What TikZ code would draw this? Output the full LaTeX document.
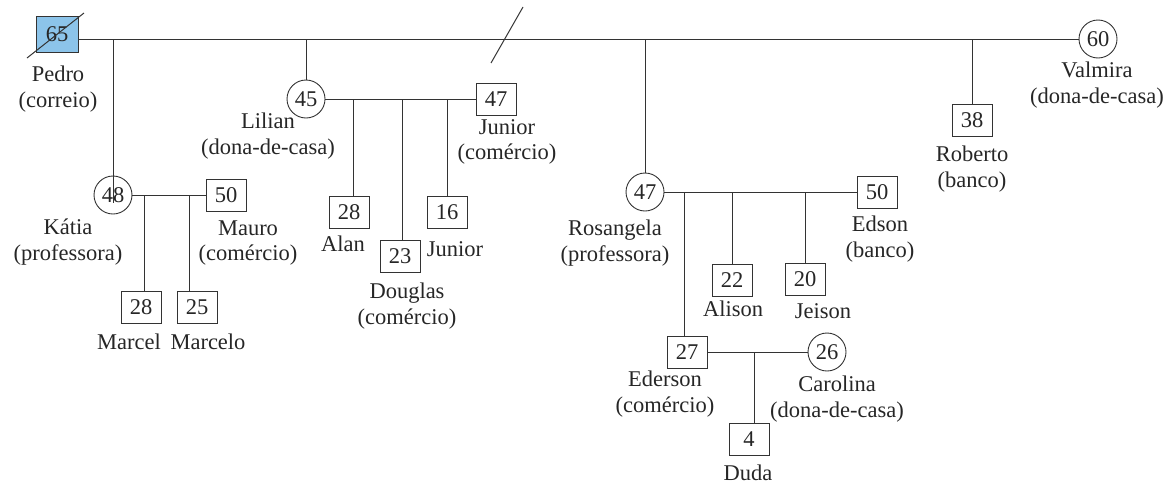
\documentclass[tikz,border=0pt]{standalone}
\usepackage{fontspec}
\setmainfont{Liberation Serif}
\usetikzlibrary{calc}
\definecolor{pedroblue}{HTML}{8CC4EA}
\tikzset{
  every node/.style={font=\fontsize{22.5}{25.5}\selectfont, text=black!85},
  male/.style={draw=black!80, line width=0.9pt, minimum width=40pt, minimum height=32pt, inner sep=0pt},
  female/.style={draw=black!80, line width=0.9pt, circle, minimum size=38pt, inner sep=0pt},
  lbl/.style={align=center, inner sep=0pt},
  link/.style={draw=black!80, line width=1pt},
}
\begin{document}
\begin{tikzpicture}[x=1pt,y=-1pt]
\useasboundingbox (0,0) rectangle (1169,485);
% persons
\node[male, fill=pedroblue, minimum width=42pt, minimum height=36pt] (pedro) at (57,34) {65};
\node[female] (valmira) at (1098,39) {60};
\node[female] (lilian) at (306,99) {45};
\node[male] (junior) at (496,99) {47};
\node[male] (alan) at (349,212) {28};
\node[male] (douglas) at (400,256) {23};
\node[male] (jun16) at (447,212) {16};
\node[female] (katia) at (113,195) {48};
\node[male] (mauro) at (226,195) {50};
\node[male] (marcel) at (141,307) {28};
\node[male] (marcelo) at (197,307) {25};
\node[female] (rosangela) at (645,192) {47};
\node[male] (edson) at (877,192) {50};
\node[male] (alison) at (732,280) {22};
\node[male] (jeison) at (805,279) {20};
\node[male] (ederson) at (687,352) {27};
\node[female] (carolina) at (827,352) {26};
\node[male] (duda) at (749,439) {4};
\node[male] (roberto) at (972,120) {38};
% deceased mark
\coordinate (ds1) at (27,58);
\coordinate (ds2) at (84,13);
\draw[link] (ds1) -- (ds2);
% labels
\node[lbl] (lpedro) at (58,89) {Pedro\\(correio)};
\node[lbl] (lvalmira) at (1097,85) {Valmira\\(dona-de-casa)};
\node[lbl] (llilian) at (268,136) {Lilian\\(dona-de-casa)};
\node[lbl] (ljunior) at (507,142) {Junior\\(comércio)};
\node[lbl] (lalan) at (343,244) {Alan};
\node[lbl] (ldouglas) at (407,306) {Douglas\\(comércio)};
\node[lbl] (ljun16) at (455,249) {Junior};
\node[lbl] (lkatia) at (68,242) {Kátia\\(professora)};
\node[lbl] (lmauro) at (248,243) {Mauro\\(comércio)};
\node[lbl] (lmarcel) at (129,342) {Marcel};
\node[lbl] (lmarcelo) at (208,342) {Marcelo};
\node[lbl] (lrosangela) at (615,243) {Rosangela\\(professora)};
\node[lbl] (ledson) at (880,239) {Edson\\(banco)};
\node[lbl] (lalison) at (733,309) {Alison};
\node[lbl] (ljeison) at (823,311) {Jeison};
\node[lbl] (lederson) at (665,394) {Ederson\\(comércio)};
\node[lbl] (lcarolina) at (837,399) {Carolina\\(dona-de-casa)};
\node[lbl] (lduda) at (748,473) {Duda};
\node[lbl] (lroberto) at (972,169) {Roberto\\(banco)};
% main marriage line
\draw[link] (pedro.east |- valmira.west) -- (valmira.west);
% divorce mark
\coordinate (dv1) at (491,63);
\coordinate (dv2) at (523,7);
\draw[link] (dv1) -- (dv2);
% drops from main line
\draw[link] (katia |- valmira) -- ($(katia.center)+(0,8)$);
\draw[link] (lilian |- valmira) -- (lilian.north);
\draw[link] (rosangela |- valmira) -- (rosangela.north);
\draw[link] (roberto |- valmira) -- (roberto.north);
% Katia & Mauro
\draw[link] (katia.east) -- (mauro.west);
\coordinate (k1) at (144,195);
\coordinate (k2) at (189,195);
\draw[link] (k1) -- (k1 |- marcel.north);
\draw[link] (k2) -- (k2 |- marcelo.north);
% Lilian & Junior
\draw[link] (lilian.east) -- (junior.west);
\coordinate (l1) at (353,99);
\coordinate (l2) at (402,99);
\coordinate (l3) at (447,99);
\draw[link] (l1) -- (l1 |- alan.north);
\draw[link] (l2) -- (l2 |- douglas.north);
\draw[link] (l3) -- (l3 |- jun16.north);
% Rosangela & Edson
\draw[link] (rosangela.east) -- (edson.west);
\coordinate (r1) at (684,192);
\coordinate (r2) at (732,192);
\coordinate (r3) at (805,192);
\draw[link] (r1) -- (r1 |- ederson.north);
\draw[link] (r2) -- (r2 |- alison.north);
\draw[link] (r3) -- (r3 |- jeison.north);
% Ederson & Carolina
\draw[link] (ederson.east) -- (carolina.west);
\coordinate (e1) at (754,352);
\draw[link] (e1) -- (e1 |- duda.north);
\end{tikzpicture}
\end{document}
